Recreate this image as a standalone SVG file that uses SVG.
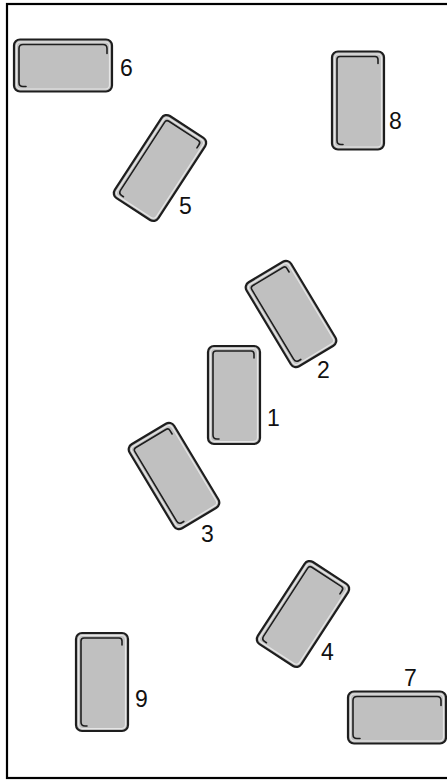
<svg xmlns="http://www.w3.org/2000/svg" width="447" height="781" viewBox="0 0 447 781">
<style>
.o{fill:#c0c0c0;stroke:#1e1e1e;stroke-width:2.2}
.h{fill:none;stroke:#e6e6e6;stroke-width:1.2}
.i{fill:none;stroke:#1e1e1e;stroke-width:1.6;stroke-linecap:round}
.lbl{font-family:"Liberation Sans",Arial,sans-serif;font-size:23px;fill:#111}
</style>
<defs>
<g id="tv">
<rect class="o" x="-26" y="-49" width="52" height="98" rx="6"/>
<rect class="h" x="-23.5" y="-46.5" width="47" height="93" rx="4"/>
<path class="i" d="M20,-37 L20,-41 Q20,-44 17,-44 L-18,-44 Q-21,-44 -21,-41 L-21,40 Q-21,44 -17,44 L-15,44"/>
</g>
<g id="th">
<rect class="o" x="-49" y="-26" width="98" height="52" rx="6"/>
<rect class="h" x="-46.5" y="-23.5" width="93" height="47" rx="4"/>
<path class="i" d="M44,-12 L44,-17 Q44,-21 40,-21 L-40,-21 Q-44,-21 -44,-17 L-44,17 Q-44,21 -40,21 L-37,21"/>
</g>
</defs>
<rect x="7" y="4" width="460" height="774" fill="none" stroke="#000" stroke-width="2.2"/>
<g id="node1"><use href="#tv" transform="translate(234,395)"/><text class="lbl" x="267" y="426">1</text></g>
<g id="node2"><use href="#tv" transform="translate(291,314) rotate(-31)"/><text class="lbl" x="317" y="378">2</text></g>
<g id="node3"><use href="#tv" transform="translate(174,476) rotate(-31)"/><text class="lbl" x="201" y="542">3</text></g>
<g id="node4"><use href="#tv" transform="translate(303,614) rotate(33)"/><text class="lbl" x="321" y="660">4</text></g>
<g id="node5"><use href="#tv" transform="translate(160,168) rotate(33)"/><text class="lbl" x="179" y="214">5</text></g>
<g id="node6"><use href="#th" transform="translate(63,65.5)"/><text class="lbl" x="120" y="76">6</text></g>
<g id="node7"><use href="#th" transform="translate(397,717.5)"/><text class="lbl" x="404" y="686">7</text></g>
<g id="node8"><use href="#tv" transform="translate(358,100.5)"/><text class="lbl" x="389" y="129">8</text></g>
<g id="node9"><use href="#tv" transform="translate(102,682)"/><text class="lbl" x="135" y="707">9</text></g>
<g id="connectors"></g>
</svg>
